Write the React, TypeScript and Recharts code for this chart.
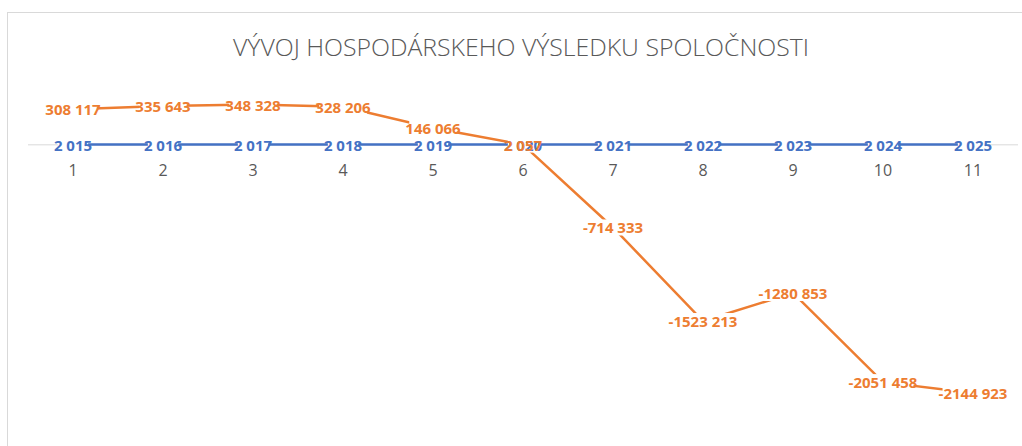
import React from 'react';
import { LineChart, Line, XAxis, YAxis, ReferenceLine, LabelList } from 'recharts';

const categories = ['1', '2', '3', '4', '5', '6', '7', '8', '9', '10', '11'];
const years = [2015, 2016, 2017, 2018, 2019, 2020, 2021, 2022, 2023, 2024, 2025];
const results = [308117, 335643, 348328, 328206, 146066, 2057, -714333, -1523213, -1280853, -2051458, -2144923];
const yDomain = [-2500000, 500000];

const data = categories.map((c, i) => ({ cat: c, year: years[i], result: results[i] }));

const W = 1022;
const H = 446;
const AXIS_H = 20;
const M = { top: 87, right: 4, bottom: 12 - AXIS_H, left: 28 };
const plotH = H - M.top - M.bottom - AXIS_H;
const zeroY = M.top + ((yDomain[1] - 0) / (yDomain[1] - yDomain[0])) * plotH;

const BLUE = '#4472C4';
const ORANGE = '#ED7D31';
const FONT = '"Open Sans", "Liberation Sans", sans-serif';

const fmt = (v: number) => {
  const neg = v < 0;
  const s = Math.abs(Math.round(v)).toString();
  const body = s.length > 3 ? s.slice(0, -3) + ' ' + s.slice(-3) : s;
  return (neg ? '-' : '') + body;
};

const estWidth = (s: string) => {
  let w = 0;
  for (const ch of s) {
    if (ch === ' ') w += 3.9;
    else if (ch === '-') w += 4.8;
    else w += 8.6;
  }
  return w;
};

const makeLabel = (color: string, withBg: (i: number) => boolean) => (props: any) => {
  const { x, y, value, index } = props;
  const t = fmt(Number(value));
  const w = estWidth(t);
  return (
    <g>
      {withBg(index) && <rect x={x - w / 2 + 4} y={y - 8} width={w - 8} height={16} fill="#FFFFFF" />}
      <text x={x} y={y} textAnchor="middle" dominantBaseline="central" fill={color} fontFamily={FONT} fontWeight={700} fontSize={15}>
        {t}
      </text>
    </g>
  );
};

const CatTick = (props: any) => {
  const { x, payload } = props;
  return (
    <text x={x} y={zeroY + 25} textAnchor="middle" dominantBaseline="central" fill="#595959" fontFamily={FONT} fontSize={16}>
      {payload.value}
    </text>
  );
};

export default function App() {
  return (
    <div style={{ position: 'absolute', left: 0, top: 0, width: W, height: H, overflow: 'hidden', background: '#FFFFFF' }}>
      <div style={{ position: 'absolute', left: 7, top: 12, width: 1100, height: 600, border: '1px solid #D9D9D9', boxSizing: 'border-box' }} />
      <div style={{ position: 'absolute', left: 0, top: 0 }}>
        <LineChart width={W} height={H} data={data} margin={M}>
          <text x={521} y={46} textAnchor="middle" dominantBaseline="central" fill="#595959" fontFamily={FONT} fontWeight={300} fontSize={24} textLength={576} lengthAdjust="spacingAndGlyphs">
            VÝVOJ HOSPODÁRSKEHO VÝSLEDKU SPOLOČNOSTI
          </text>
          <XAxis dataKey="cat" type="category" height={AXIS_H} axisLine={false} tickLine={false} padding={{ left: 45, right: 45 }} tick={<CatTick />} interval={0} />
          <YAxis hide domain={yDomain} allowDataOverflow type="number" />
          <ReferenceLine y={0} stroke="#D9D9D9" strokeWidth={1} ifOverflow="extendDomain" />
          <Line dataKey="year" stroke={BLUE} strokeWidth={2.5} dot={false} isAnimationActive={false}>
            <LabelList dataKey="year" content={makeLabel(BLUE, () => true)} />
          </Line>
          <Line dataKey="result" stroke={ORANGE} strokeWidth={2.5} dot={false} isAnimationActive={false}>
            <LabelList dataKey="result" content={makeLabel(ORANGE, (i) => i !== 5)} />
          </Line>
        </LineChart>
      </div>
    </div>
  );
}
